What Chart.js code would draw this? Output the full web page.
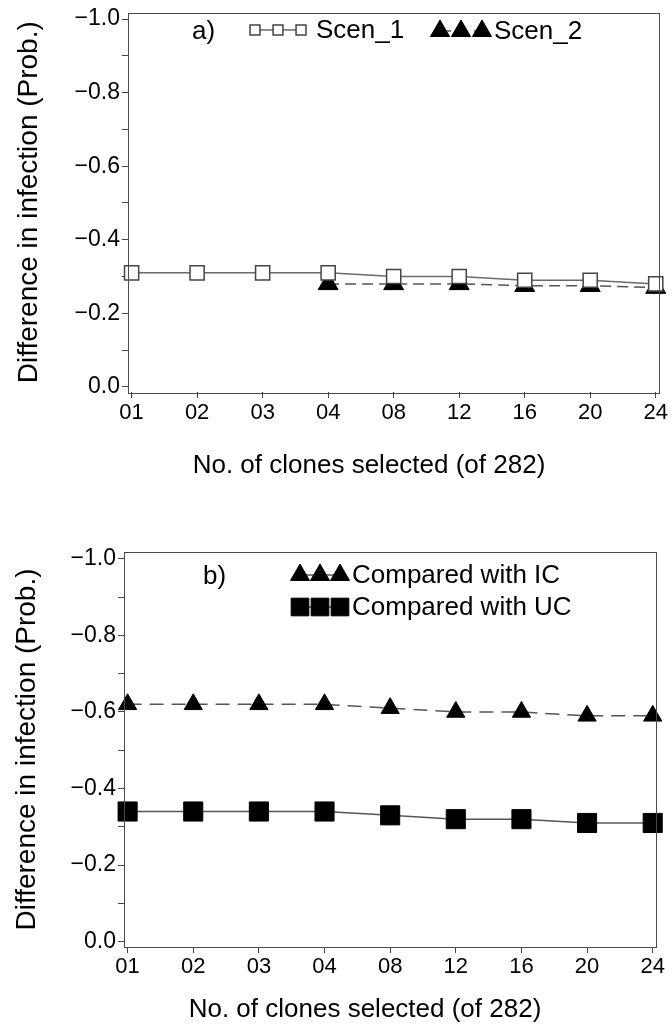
<!DOCTYPE html>
<html>
<head>
<meta charset="utf-8">
<script src="https://cdn.jsdelivr.net/npm/chart.js@4.4.1/dist/chart.umd.min.js"></script>
<style>
  html, body { margin: 0; padding: 0; background: #fff; }
  body { width: 672px; height: 1027px; position: relative; overflow: hidden; }
  canvas { position: absolute; left: 0; }
  #chartA { top: 0; }
  #chartB { top: 530px; }
</style>
</head>
<body>
<canvas id="chartA" width="672" height="500"></canvas>
<canvas id="chartB" width="672" height="497"></canvas>
<script>
const FONT = '"Liberation Sans", Arial, Helvetica, sans-serif';
Chart.defaults.font.family = FONT;
Chart.defaults.color = '#000';

// number of clones selected (x categories)
const clones = ['01', '02', '03', '04', '08', '12', '16', '20', '24'];

// panel a
const scen1 = [-0.31, -0.31, -0.31, -0.31, -0.30, -0.30, -0.29, -0.29, -0.28];
const scen2 = [null, null, null, -0.28, -0.28, -0.28, -0.275, -0.275, -0.27];

// panel b
const vsIC = [-0.62, -0.62, -0.62, -0.62, -0.61, -0.60, -0.60, -0.59, -0.59];
const vsUC = [-0.34, -0.34, -0.34, -0.34, -0.33, -0.32, -0.32, -0.31, -0.31];

// y ticks every 0.1, labelled every 0.2
const yTicks = [0, -0.1, -0.2, -0.3, -0.4, -0.5, -0.6, -0.7, -0.8, -0.9, -1.0];

const X_TITLE = 'No. of clones selected (of 282)';
const Y_TITLE = 'Difference in infection (Prob.)';

const points = vals => vals
  .map((v, i) => ({ x: i, y: v }))
  .filter(p => p.y !== null);

function yLabel(v) {
  if (Math.round(v * 10) % 2 !== 0) return '';
  if (Math.abs(v) < 1e-9) return '0.0';
  return '\u2212' + Math.abs(v).toFixed(1);
}

// box around the plotting area
const frame = {
  id: 'frame',
  afterDraw(chart) {
    const { ctx, chartArea: a } = chart;
    ctx.save();
    ctx.strokeStyle = '#4a4a4a';
    ctx.lineWidth = 1;
    ctx.strokeRect(Math.round(a.left) + 0.5, Math.round(a.top) + 0.5,
      Math.round(a.right - a.left), Math.round(a.bottom - a.top));
    ctx.restore();
  }
};

// x axis caption, set a little left of the axis centre
const xCaption = {
  id: 'xCaption',
  afterDraw(chart, args, opts) {
    const ctx = chart.ctx;
    ctx.save();
    ctx.font = opts.size + 'px ' + FONT;
    ctx.fillStyle = '#000';
    ctx.textAlign = 'center';
    ctx.textBaseline = 'middle';
    ctx.fillText(opts.text, opts.x, opts.y);
    ctx.restore();
  }
};

// in-plot key: panel tag, three markers joined by the series line, series name
const legendKey = {
  id: 'legendKey',
  afterDraw(chart, args, opts) {
    const ctx = chart.ctx;
    ctx.save();
    ctx.font = opts.size + 'px ' + FONT;
    ctx.textBaseline = 'middle';
    ctx.fillStyle = '#000';
    ctx.fillText(opts.tag, opts.tagX, opts.tagY);
    opts.rows.forEach(row => {
      const ds = chart.data.datasets[row.dataset];
      ctx.strokeStyle = ds.borderColor;
      ctx.lineWidth = ds.borderWidth;
      ctx.setLineDash(ds.borderDash || []);
      ctx.beginPath();
      ctx.moveTo(row.x0, row.y);
      ctx.lineTo(row.x0 + 2 * row.gap, row.y);
      ctx.stroke();
      ctx.setLineDash([]);
      for (let k = 0; k < 3; k++) {
        ctx.fillStyle = ds.pointBackgroundColor;
        ctx.strokeStyle = ds.pointBorderColor;
        ctx.lineWidth = ds.pointBorderWidth;
        Chart.helpers.drawPoint(ctx, {
          pointStyle: ds.pointStyle, radius: row.r,
          borderWidth: ds.pointBorderWidth, rotation: 0
        }, row.x0 + k * row.gap, row.y);
      }
      ctx.fillStyle = '#000';
      ctx.fillText(ds.label, row.textX, row.y + 1);
    });
    ctx.restore();
  }
};

function scales(box) {
  return {
    x: {
      type: 'linear',
      min: -0.055,
      max: 8.05,
      afterBuildTicks: s => { s.ticks = clones.map((c, i) => ({ value: i })); },
      ticks: {
        callback: v => clones[v],
        font: { size: 22 },
        color: '#000',
        padding: box.xTickPad,
        maxRotation: 0,
        autoSkip: false
      },
      grid: { drawOnChartArea: false, drawTicks: true, tickLength: 6, tickColor: '#444' },
      border: { display: false },
      afterFit: s => { s.height = box.xAxisH; s.paddingLeft = 0; s.paddingRight = 0; }
    },
    y: {
      type: 'linear',
      reverse: true,
      min: -1.018,
      max: 0.014,
      afterBuildTicks: s => { s.ticks = yTicks.map(v => ({ value: v })); },
      ticks: {
        callback: v => yLabel(v),
        font: { size: 23 },
        color: '#000',
        padding: 2
      },
      grid: { drawOnChartArea: false, drawTicks: true, tickLength: 6, tickColor: '#444' },
      border: { display: false },
      title: {
        display: true,
        text: Y_TITLE,
        font: { size: 28 },
        color: '#000',
        padding: { top: box.yTitlePad, bottom: 0 }
      },
      afterFit: s => { s.width = box.yAxisW; s.paddingTop = 0; s.paddingBottom = 0; }
    }
  };
}

function panel(id, datasets, box, key, caption) {
  return new Chart(document.getElementById(id), {
    type: 'line',
    data: { datasets: datasets },
    options: {
      responsive: false,
      animation: false,
      layout: { padding: { top: box.top, right: box.right, left: 0, bottom: 0 } },
      plugins: {
        legend: { display: false },
        tooltip: { enabled: false },
        legendKey: key,
        xCaption: caption
      },
      scales: scales(box)
    },
    plugins: [frame, legendKey, xCaption]
  });
}

// a) scenario comparison
panel('chartA', [
  {
    label: 'Scen_1',
    data: points(scen1),
    borderColor: '#6a6a6a',
    borderWidth: 1.5,
    pointStyle: 'rect',
    pointRadius: 10,
    pointBackgroundColor: '#fff',
    pointBorderColor: '#444',
    pointBorderWidth: 1.5,
    clip: false
  },
  {
    label: 'Scen_2',
    data: points(scen2),
    borderColor: '#555',
    borderWidth: 1.5,
    borderDash: [11, 6],
    pointStyle: 'triangle',
    pointRadius: 11.5,
    pointBackgroundColor: '#000',
    pointBorderColor: '#000',
    pointBorderWidth: 1,
    clip: false
  }
], { top: 8, right: 13, yAxisW: 128, xAxisH: 108, xTickPad: 2, yTitlePad: 12 },
{
  size: 26, tag: 'a)', tagX: 192, tagY: 32,
  rows: [
    { dataset: 0, x0: 255, gap: 23, y: 30, r: 7, textX: 316 },
    { dataset: 1, x0: 440, gap: 21, y: 31, r: 11, textX: 494 }
  ]
},
{ text: X_TITLE, size: 26, x: 369, y: 466 });

// b) comparison with IC and UC
panel('chartB', [
  {
    label: 'Compared with IC',
    data: points(vsIC),
    borderColor: '#555',
    borderWidth: 1.5,
    borderDash: [14, 8],
    pointStyle: 'triangle',
    pointRadius: 10.5,
    pointBackgroundColor: '#000',
    pointBorderColor: '#000',
    pointBorderWidth: 1,
    clip: false
  },
  {
    label: 'Compared with UC',
    data: points(vsUC),
    borderColor: '#555',
    borderWidth: 1.5,
    pointStyle: 'rect',
    pointRadius: 13.5,
    pointBackgroundColor: '#000',
    pointBorderColor: '#000',
    pointBorderWidth: 1,
    clip: false
  }
], { top: 22, right: 16, yAxisW: 124, xAxisH: 80, xTickPad: 1, yTitlePad: 10 },
{
  size: 26, tag: 'b)', tagX: 203, tagY: 47,
  rows: [
    { dataset: 0, x0: 300, gap: 20, y: 45, r: 11, textX: 352 },
    { dataset: 1, x0: 300, gap: 20, y: 77, r: 12.5, textX: 352 }
  ]
},
{ text: X_TITLE, size: 26, x: 365, y: 480 });
</script>
</body>
</html>
